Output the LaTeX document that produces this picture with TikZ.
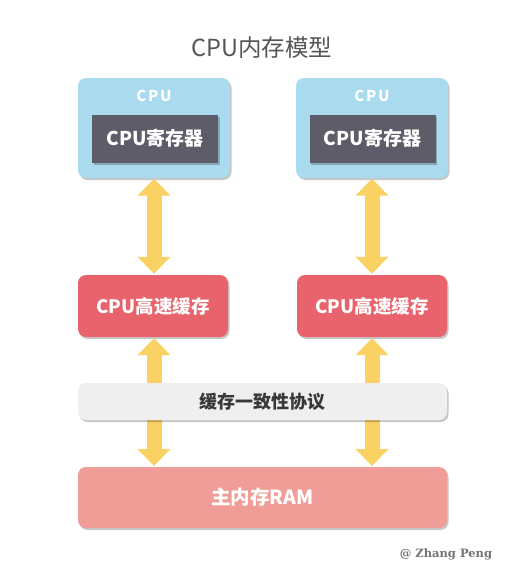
\documentclass[tikz,border=0pt]{standalone}
\usepackage{fontspec}
\setmainfont{Noto Sans CJK SC}
\newfontfamily\markfont{DejaVu Serif}
\usetikzlibrary{arrows.meta,shadows}
\definecolor{cpublue}{HTML}{AADAEE}
\definecolor{regdark}{HTML}{5E5C69}
\definecolor{cachered}{HTML}{E8636B}
\definecolor{protogray}{HTML}{EFEFEF}
\definecolor{ramred}{HTML}{F09D97}
\definecolor{arrowyellow}{HTML}{FAD263}
\definecolor{titlegray}{HTML}{555555}
\tikzset{
  shad/.style={drop shadow={shadow xshift=1.5pt,shadow yshift=-2pt,fill=black,opacity=0.22}},
  box/.style={shape=rectangle,rounded corners=8pt,inner sep=0pt,shad,
    font=\fontsize{18.5}{20}\selectfont\bfseries,text=white},
  cpubox/.style={box,fill=cpublue,minimum width=152pt,minimum height=100pt},
  regbox/.style={shape=rectangle,inner sep=0pt,fill=regdark,minimum width=126pt,minimum height=48pt,
    shad,font=\fontsize{19}{20}\selectfont\bfseries,text=white},
  cachebox/.style={box,fill=cachered,minimum width=150pt,minimum height=62pt},
  protobox/.style={box,fill=protogray,text=black!78,font=\fontsize{18}{20}\selectfont\bfseries,
    minimum width=369pt,minimum height=37pt},
  rambox/.style={box,fill=ramred,font=\fontsize{19.5}{20}\selectfont\bfseries,
    minimum width=369pt,minimum height=61pt},
  cpulabel/.style={text=white,font=\fontsize{15}{16}\selectfont\bfseries\addfontfeature{LetterSpace=12}},
  link/.style={arrowyellow,line width=15pt,
    {Triangle[width=32pt,length=17pt]}-{Triangle[width=32pt,length=17pt]}},
}
\begin{document}
\begin{tikzpicture}[x=1pt,y=-1pt]
\useasboundingbox (0,0) rectangle (523,584);
\fill[white] (0,0) rectangle (523,584);

\node[text=titlegray,font=\fontsize{23.5}{26}\selectfont] (title) at (262,48) {CPU内存模型};

% CPU boxes
\node[cpubox] (cpu1) at (154,128) {};
\node[cpubox] (cpu2) at (372,128) {};
\node[cpulabel] (cpul1) at (154,96) {CPU};
\node[cpulabel] (cpul2) at (372,96) {CPU};
\node[regbox] (reg1) at (155,138.5) {CPU寄存器};
\node[regbox] (reg2) at (372.5,138.5) {CPU寄存器};

% caches
\node[cachebox] (cache1) at (153,306) {CPU高速缓存};
\node[cachebox] (cache2) at (372,306) {CPU高速缓存};

% RAM
\node[rambox] (ram) at (262.5,497.5) {主内存RAM};
\coordinate (ramL) at (154,466);
\coordinate (ramR) at (372,466);

% arrows
\draw[link] ([yshift=-0.5pt]cpu1.south) -- ([yshift=1pt]cache1.north -| cpu1.south);
\draw[link] ([yshift=-0.5pt]cpu2.south) -- ([yshift=1pt]cache2.north);
\draw[link] ([yshift=-1pt]cache1.south -| cpu1.south) -- (ramL);
\draw[link] ([yshift=-1pt]cache2.south) -- (ramR);

% protocol bar
\node[protobox] (proto) at (262.5,401.5) {缓存一致性协议};

\node[text=black!55,font=\fontsize{11.5}{12}\selectfont\markfont\bfseries] (mark) at (446,554) {@ Zhang Peng};
\end{tikzpicture}
\end{document}
